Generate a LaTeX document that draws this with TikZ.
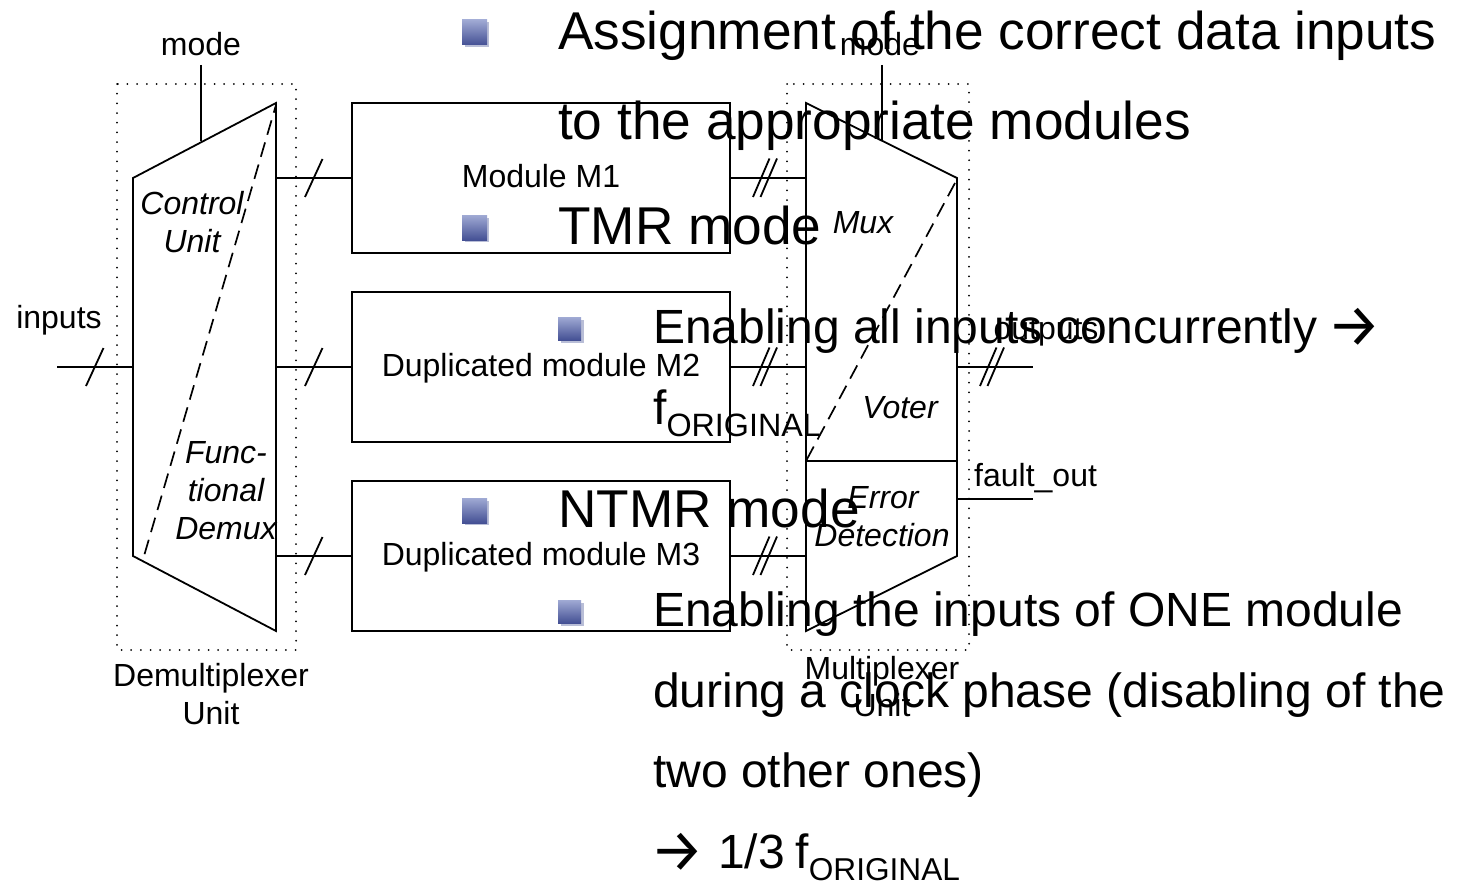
\documentclass[tikz,border=0pt]{standalone}
\usepackage{fontspec}
\setmainfont{Liberation Sans}
\newfontfamily\arrowfont{Fira Sans}
\newcommand{\bigarrow}{\raisebox{-3pt}{\fontsize{60}{60}\arrowfont →}}
\usetikzlibrary{shadings}
\definecolor{bulA}{RGB}{160,170,212}
\definecolor{bulB}{RGB}{68,80,148}
\definecolor{bulS}{RGB}{185,190,215}
\tikzset{
  x=1pt,y=-1pt,
  wire/.style={draw=black,line width=1.8pt},
  shapeline/.style={draw=black,line width=1.8pt,line join=miter},
  modbox/.style={draw=black,line width=1.8pt,inner sep=0pt,outer sep=0pt,minimum width=378pt,minimum height=150pt,anchor=north west},
  dashline/.style={draw=black,line width=1.7pt,dash pattern=on 15pt off 8pt},
  dotbox/.style={draw=black,line width=2pt,line cap=round,dash pattern=on 0pt off 9.67pt},
  lab/.style={font=\fontsize{32}{32}\selectfont,inner sep=0pt,anchor=base},
  labl/.style={font=\fontsize{32}{32}\selectfont,inner sep=0pt,anchor=base west},
  ilab/.style={font=\fontsize{32}{32}\selectfont\itshape,inner sep=0pt,anchor=base},
  big/.style={font=\fontsize{53.2}{54}\selectfont,inner sep=0pt,anchor=base west},
  mid/.style={font=\fontsize{48}{48}\selectfont,inner sep=0pt,anchor=base west},
}
\newcommand{\bigbul}[2]{%
  \fill[bulS] (#1+2.5,#2+2.5) rectangle (#1+27,#2+27);
  \shade[top color=bulA,bottom color=bulB] (#1,#2) rectangle (#1+25,#2+25);}
\newcommand{\smallbul}[2]{%
  \fill[bulS] (#1+2.5,#2+2.5) rectangle (#1+25.5,#2+25.5);
  \shade[top color=bulA,bottom color=bulB] (#1,#2) rectangle (#1+23,#2+23);}
\begin{document}
\begin{tikzpicture}
\useasboundingbox (0,0) rectangle (1459,883);
% dotted unit frames
\draw[dotbox] (117,84) rectangle (296,650);
\draw[dotbox] (787,84) rectangle (969,650);
% demux and mux outlines
\coordinate (d1) at (133,178); \coordinate (d2) at (276,103);
\coordinate (d3) at (276,631); \coordinate (d4) at (133,556);
\coordinate (m1) at (806,103); \coordinate (m2) at (957,178);
\coordinate (m3) at (957,556); \coordinate (m4) at (806,631);
\draw[shapeline] (d1)--(d2)--(d3)--(d4)--cycle;
\draw[shapeline] (m1)--(m2)--(m3)--(m4)--cycle;
\draw[dashline,dash phase=7pt] (276,105)--(144,556);
\draw[dashline] (955,183)--(806,461);
\coordinate (ml) at (806,461); \coordinate (mr) at (957,461);
\draw[wire] (ml)--(mr);
% modules
\node[modbox] (M1) at (352,103) {};
\node[modbox] (M2) at (352,292) {};
\node[modbox] (M3) at (352,481) {};
% connectors
\coordinate (dm) at (201,141); \coordinate (dmt) at (201,65);
\coordinate (mm) at (882,141); \coordinate (mmt) at (882,65);
\draw[wire] (dmt)--(dm);
\draw[wire] (mmt)--(mm);
\coordinate (inL) at (57,367); \coordinate (inR) at (133,367);
\draw[wire] (inL)--(inR);
\coordinate (dr1) at (276,178); \coordinate (dr2) at (276,367); \coordinate (dr3) at (276,556);
\coordinate (ml1) at (806,178); \coordinate (ml2) at (806,367); \coordinate (ml3) at (806,556);
\draw[wire] (dr1)--(M1.west);
\draw[wire] (dr2)--(M2.west);
\draw[wire] (dr3)--(M3.west);
\draw[wire] (M1.east)--(ml1);
\draw[wire] (M2.east)--(ml2);
\draw[wire] (M3.east)--(ml3);
\coordinate (oR) at (1033,367); \coordinate (oL) at (957,367);
\coordinate (fR) at (1033,499); \coordinate (fL) at (957,499);
\draw[wire] (oL)--(oR);
\draw[wire] (fL)--(fR);
% bus ticks
\foreach \xx/\yy in {95/367,314/178,314/367,314/556}
  \draw[wire] (\xx-9,\yy+19)--(\xx+8.5,\yy-19);
\foreach \xx/\yy in {761/178,761/367,761/556,988/367}{
  \draw[wire] (\xx-8,\yy+19)--(\xx+8.5,\yy-19.5);
  \draw[wire] (\xx-0.5,\yy+19)--(\xx+16,\yy-19.5);}
% labels
\node[lab] (tmode) at (201,56) {mode};
\node[lab] (tinputs) at (59,328) {inputs};
\node[lab] (tm1) at (541,187) {Module M1};
\node[lab] (tm2) at (541,376) {Duplicated module M2};
\node[lab] (tm3) at (541,565) {Duplicated module M3};
\node[ilab] (c1) at (192,214) {Control};
\node[ilab] (c2) at (192,252) {Unit};
\node[ilab] (f1) at (226,463) {Func-};
\node[ilab] (f2) at (226,501) {tional};
\node[ilab] (f3) at (226,539) {Demux};
\node[lab] (du1) at (211,686) {Demultiplexer};
\node[lab] (du2) at (211,724) {Unit};
\node[lab] (mmode) at (880,56) {mode};
\node[ilab] (mx) at (863,233) {Mux};
\node[ilab] (vt) at (900,418) {Voter};
\node[ilab] (e1) at (883,508) {Error};
\node[ilab] (e2) at (882,546) {Detection};
\node[lab] (mu1) at (882,679) {Multiplexer};
\node[lab] (mu2) at (882,716) {Unit};
\node[lab] (tout) at (1046,339) {outputs};
\node[labl] (tfault) at (974,486) {fault\_out};
% bullets
\bigbul{462}{20}
\bigbul{462}{215}
\bigbul{462}{498}
\smallbul{558}{317}
\smallbul{558}{600}
% bullet text
\node[big] (a1) at (558,50) {Assignment of the correct data inputs};
\node[big] (a2) at (558,139) {to the appropriate modules};
\node[big] (t1) at (558,244) {TMR mode};
\node[mid] (t2) at (653,343) {Enabling all inputs concurrently\hspace{9.8pt}\bigarrow};
\node[mid] (t3) at (653,424) {f\raisebox{-12pt}{\fontsize{32.3}{32}\selectfont ORIGINAL}};
\node[big] (n1) at (558,527) {NTMR mode};
\node[mid] (n2) at (653,626) {Enabling the inputs of ONE module};
\node[mid] (n3) at (653,707) {during a clock phase (disabling of the};
\node[mid] (n4) at (653,787) {two other ones)};
\node[mid] (n5) at (653,868) {\hspace{-2.5pt}\bigarrow{} 1/3\hspace{10.8pt}f\raisebox{-12pt}{\fontsize{31.6}{32}\selectfont ORIGINAL}};
\end{tikzpicture}
\end{document}
